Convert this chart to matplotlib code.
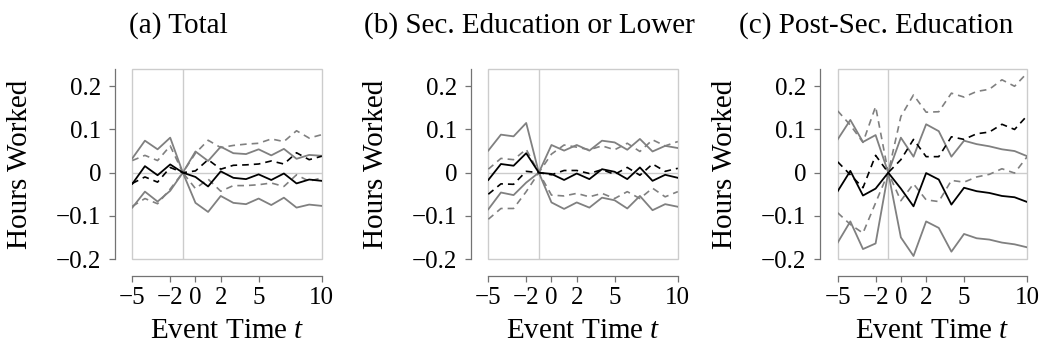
import numpy as np
import matplotlib
matplotlib.use('Agg')
import matplotlib.pyplot as plt
from matplotlib.patches import Rectangle

plt.rcParams['font.family'] = ['Liberation Serif', 'DejaVu Serif']
plt.rcParams['mathtext.fontset'] = 'custom'
plt.rcParams['mathtext.it'] = 'Liberation Serif:italic'
plt.rcParams['mathtext.rm'] = 'Liberation Serif'

# event time
t = np.arange(-5, 11)

# (a) Total
a_est = [-0.026, 0.015, -0.006, 0.019, 0, -0.010, -0.032, 0.003, -0.012, -0.015, -0.004, -0.017, -0.002, -0.025, -0.016, -0.019]
a_hi = [0.033, 0.074, 0.054, 0.081, 0, 0.049, 0.027, 0.060, 0.045, 0.043, 0.054, 0.040, 0.055, 0.032, 0.041, 0.039]
a_lo = [-0.081, -0.044, -0.067, -0.042, 0, -0.070, -0.091, -0.054, -0.070, -0.073, -0.060, -0.075, -0.058, -0.081, -0.074, -0.077]
a_est2 = [-0.025, -0.010, -0.022, 0.012, 0, 0.004, 0.030, 0.008, 0.017, 0.018, 0.020, 0.027, 0.020, 0.046, 0.030, 0.038]
a_hi2 = [0.028, 0.040, 0.028, 0.062, 0, 0.045, 0.075, 0.058, 0.063, 0.066, 0.068, 0.078, 0.072, 0.097, 0.080, 0.088]
a_lo2 = [-0.078, -0.060, -0.072, -0.038, 0, -0.037, -0.015, -0.043, -0.030, -0.030, -0.028, -0.024, -0.032, -0.005, -0.020, -0.012]

# (b) Sec. Education or Lower
b_est = [-0.017, 0.020, 0.016, 0.045, 0, -0.003, -0.017, -0.002, -0.015, 0.008, 0.002, -0.015, 0.012, -0.019, -0.005, -0.012]
b_hi = [0.051, 0.088, 0.084, 0.115, 0, 0.064, 0.051, 0.064, 0.051, 0.074, 0.070, 0.053, 0.078, 0.049, 0.062, 0.057]
b_lo = [-0.085, -0.046, -0.052, -0.023, 0, -0.069, -0.084, -0.069, -0.081, -0.058, -0.064, -0.083, -0.054, -0.087, -0.073, -0.079]
b_est2 = [-0.050, -0.026, -0.027, 0.003, 0, -0.005, 0.005, 0.005, -0.002, 0.007, -0.004, 0.012, -0.006, 0.020, 0.003, 0.010]
b_hi2 = [0.008, 0.033, 0.030, 0.054, 0, 0.043, 0.064, 0.059, 0.053, 0.062, 0.053, 0.068, 0.049, 0.076, 0.062, 0.072]
b_lo2 = [-0.108, -0.083, -0.083, -0.044, 0, -0.052, -0.054, -0.048, -0.056, -0.048, -0.060, -0.044, -0.060, -0.036, -0.056, -0.044]

# (c) Post-Sec. Education
c_est = [-0.043, 0.004, -0.053, -0.037, 0, -0.037, -0.078, -0.001, -0.016, -0.074, -0.035, -0.043, -0.047, -0.054, -0.057, -0.068]
c_hi = [0.077, 0.122, 0.071, 0.087, 0, 0.081, 0.037, 0.112, 0.096, 0.037, 0.074, 0.066, 0.061, 0.054, 0.050, 0.038]
c_lo = [-0.162, -0.113, -0.177, -0.164, 0, -0.150, -0.193, -0.113, -0.128, -0.183, -0.142, -0.152, -0.155, -0.162, -0.166, -0.173]
c_est2 = [0.025, -0.005, -0.035, 0.040, 0, 0.030, 0.077, 0.037, 0.037, 0.083, 0.077, 0.090, 0.094, 0.112, 0.100, 0.132]
c_hi2 = [0.143, 0.110, 0.070, 0.153, 0, 0.130, 0.180, 0.140, 0.141, 0.184, 0.175, 0.188, 0.193, 0.215, 0.200, 0.231]
c_lo2 = [-0.093, -0.120, -0.140, -0.070, 0, -0.065, -0.026, -0.063, -0.067, -0.018, -0.022, -0.010, -0.004, 0.009, -0.001, 0.037]

titles = ['(a) Total', '(b) Sec. Education or Lower', '(c) Post-Sec. Education']
title_x = [178, 529, 876]  # px centres
xticks = [-5, -2, 0, 2, 5, 10]
xticklabels = ['\u22125', '\u22122', '0', '2', '5', '10']
yticks = [-0.2, -0.1, 0, 0.1, 0.2]
yticklabels = ['\u22120.2', '\u22120.1', '0', '0.1', '0.2']

panels = [
    (a_est, a_lo, a_hi, a_est2, a_lo2, a_hi2),
    (b_est, b_lo, b_hi, b_est2, b_lo2, b_hi2),
    (c_est, c_lo, c_hi, c_est2, c_lo2, c_hi2),
]

W, H = 1043, 352
fig = plt.figure(figsize=(W / 100, H / 100), dpi=100)
lefts = [132.3, 488.3, 837.7]

GRAY = '0.5'
LIGHT = '0.8'
SPINE = '0.45'

for i, (est, lo, hi, est2, lo2, hi2) in enumerate(panels):
    ax = fig.add_axes([lefts[i] / W, 1 - 259 / H, 189.5 / W, 190 / H])
    ax.axvline(-1, color=LIGHT, lw=1, zorder=1)
    ax.axhline(0, color=LIGHT, lw=1, zorder=1)
    ax.add_patch(Rectangle((0, 0), 1, 1, transform=ax.transAxes, fill=False,
                           ec=LIGHT, lw=1, clip_on=False, zorder=1))

    ax.plot(t, hi2, color=GRAY, lw=1.2, dashes=(4, 3), zorder=2)
    ax.plot(t, lo2, color=GRAY, lw=1.2, dashes=(4, 3), zorder=2)
    ax.plot(t, hi, color=GRAY, lw=1.3, zorder=3)
    ax.plot(t, lo, color=GRAY, lw=1.3, zorder=3)
    ax.plot(t, est2, color='black', lw=1.2, dashes=(4, 3), zorder=4)
    ax.plot(t, est, color='black', lw=1.3, zorder=5)

    ax.set_xlim(-5, 10)
    ax.set_ylim(-0.2, 0.24)
    for s in ['top', 'right']:
        ax.spines[s].set_visible(False)
    for s in ['left', 'bottom']:
        ax.spines[s].set_position(('outward', 12.5))
        ax.spines[s].set_color(SPINE)
        ax.spines[s].set_linewidth(0.9)
    ax.spines['left'].set_bounds(-0.2, 0.24)

    ax.set_xticks(xticks)
    ax.set_xticklabels(xticklabels)
    ax.set_yticks(yticks)
    ax.set_yticklabels(yticklabels)
    ax.tick_params(axis='both', labelsize=18, length=4, width=0.9, color=SPINE)
    ax.tick_params(axis='y', pad=6)
    ax.tick_params(axis='x', pad=4)

    ax.set_ylabel('Hours Worked', fontsize=21)
    ax.yaxis.set_label_coords(-0.525, 0.5)
    ax.set_xlabel('Event Time $t$', fontsize=21)
    ax.xaxis.set_label_coords(0.5, -0.31)

    fig.text(title_x[i] / W, 1 - 33 / H, titles[i], fontsize=21,
             ha='center', va='baseline')

fig.savefig('out.png', dpi=100)
